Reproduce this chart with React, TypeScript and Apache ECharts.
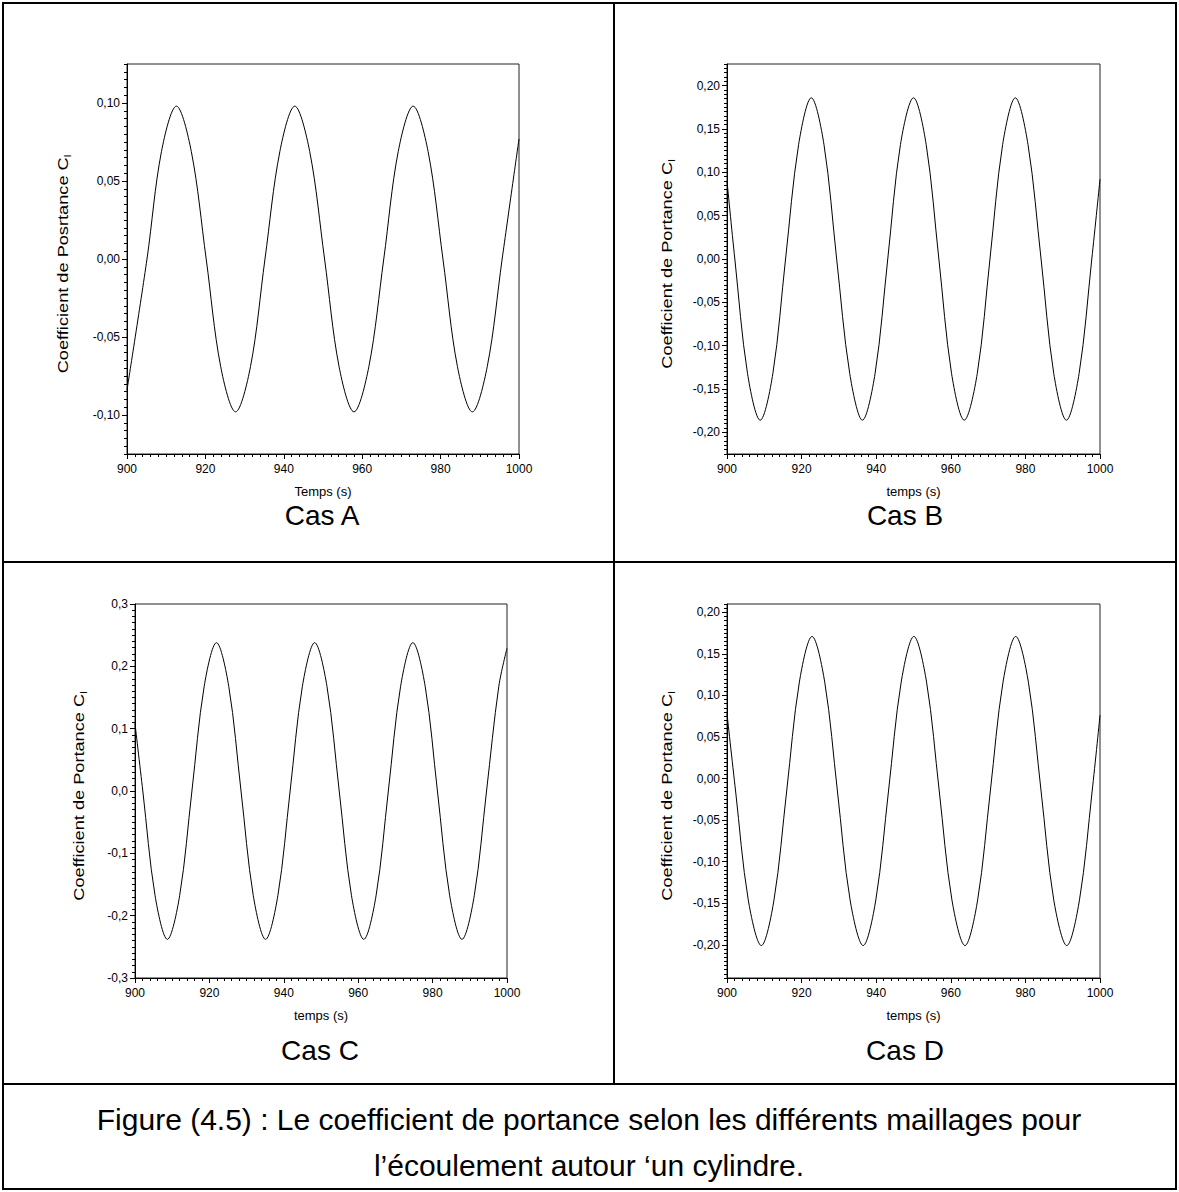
import React, { useEffect, useRef } from "react";
import * as echarts from "echarts";

// ---------- data ----------
const timeA = [900.0, 905.1, 908.8, 912.6, 916.4, 920.2, 923.9, 927.7, 931.5, 935.2, 939.0, 942.8, 946.6, 950.4, 954.1, 957.9, 961.7, 965.5, 969.2, 973.0, 976.8, 980.6, 984.3, 988.1, 991.9, 995.7, 1000.0];
const clA = [-0.084, 0.0, 0.069, 0.098, 0.069, 0.0, -0.069, -0.098, -0.069, 0.0, 0.069, 0.098, 0.069, 0.0, -0.069, -0.098, -0.069, 0.0, 0.069, 0.098, 0.069, 0.0, -0.069, -0.098, -0.069, 0.0, 0.077];

const timeB = [900.0, 902.1, 905.5, 908.9, 912.3, 915.7, 919.2, 922.6, 926.0, 929.4, 932.9, 936.3, 939.7, 943.1, 946.5, 950.0, 953.4, 956.8, 960.2, 963.6, 967.1, 970.5, 973.9, 977.3, 980.7, 984.2, 987.6, 991.0, 994.4, 997.8, 1000.0];
const clB = [0.09, 0.0, -0.132, -0.186, -0.132, 0.0, 0.132, 0.186, 0.132, 0.0, -0.132, -0.186, -0.132, 0.0, 0.132, 0.186, 0.132, 0.0, -0.132, -0.186, -0.132, 0.0, 0.132, 0.186, 0.132, 0.0, -0.132, -0.186, -0.132, 0.0, 0.092];

const timeC = [900.0, 902.1, 905.4, 908.7, 912.0, 915.3, 918.6, 921.9, 925.2, 928.5, 931.8, 935.1, 938.4, 941.7, 945.0, 948.3, 951.6, 954.9, 958.2, 961.5, 964.8, 968.1, 971.4, 974.7, 978.0, 981.3, 984.6, 987.9, 991.2, 994.5, 997.8, 1000.0];
const clC = [0.108, 0.0, -0.168, -0.238, -0.168, 0.0, 0.168, 0.238, 0.168, 0.0, -0.168, -0.238, -0.168, 0.0, 0.168, 0.238, 0.168, 0.0, -0.168, -0.238, -0.168, 0.0, 0.168, 0.238, 0.168, 0.0, -0.168, -0.238, -0.168, 0.0, 0.168, 0.229];

const timeD = [900.0, 902.3, 905.7, 909.2, 912.6, 916.0, 919.4, 922.8, 926.2, 929.6, 933.0, 936.5, 939.9, 943.3, 946.7, 950.1, 953.5, 956.9, 960.3, 963.8, 967.2, 970.6, 974.0, 977.4, 980.8, 984.2, 987.6, 991.1, 994.5, 997.9, 1000.0];
const clD = [0.078, -0.015, -0.146, -0.201, -0.146, -0.015, 0.116, 0.171, 0.116, -0.015, -0.146, -0.201, -0.146, -0.015, 0.116, 0.171, 0.116, -0.015, -0.146, -0.201, -0.146, -0.015, 0.116, 0.171, 0.116, -0.015, -0.146, -0.201, -0.146, -0.015, 0.076];

const xTicks = [900, 920, 940, 960, 980, 1000];
const yTicksA = [-0.1, -0.05, 0, 0.05, 0.1];
const yTicksB = [-0.2, -0.15, -0.1, -0.05, 0, 0.05, 0.1, 0.15, 0.2];
const yTicksC = [-0.3, -0.2, -0.1, 0, 0.1, 0.2, 0.3];
const yTicksD = [-0.2, -0.15, -0.1, -0.05, 0, 0.05, 0.1, 0.15, 0.2];

const yTitles = ["Coefficient de Posrtance C", "Coefficient de Portance C", "Coefficient de Portance C", "Coefficient de Portance C"];
const ySub = "l";
const xTitles = ["Temps (s)", "temps (s)", "temps (s)", "temps (s)"];
const casLabels = ["Cas A", "Cas B", "Cas C", "Cas D"];
const captionLines = [
  "Figure (4.5) : Le coefficient de portance selon les différents maillages pour",
  "l\u2019écoulement autour \u2018un cylindre.",
];

// ---------- layout / axis settings ----------
const FONT = "'Liberation Sans', Arial, sans-serif";

const panels = [
  { t: timeA, v: clA, ticks: yTicksA, min: -0.125, max: 0.125, minor: 0.005, dec: 2,
    grid: { left: 127, top: 64, width: 392, height: 390 }, titleX: 63, casX: 322, casY: 515 },
  { t: timeB, v: clB, ticks: yTicksB, min: -0.225, max: 0.225, minor: 0.005, dec: 2,
    grid: { left: 727, top: 64, width: 373, height: 390 }, titleX: 667, casX: 905, casY: 515 },
  { t: timeC, v: clC, ticks: yTicksC, min: -0.3, max: 0.3, minor: 0.01, dec: 1,
    grid: { left: 135, top: 604, width: 372, height: 374 }, titleX: 79, casX: 320, casY: 1050 },
  { t: timeD, v: clD, ticks: yTicksD, min: -0.24, max: 0.21, minor: 0.005, dec: 2,
    grid: { left: 727, top: 604, width: 373, height: 374 }, titleX: 667, casX: 905, casY: 1050 },
];

const fmt = (v: number, dec: number) => {
  const s = (Math.abs(v) < 1e-9 ? 0 : v).toFixed(dec);
  return s.replace(".", ",");
};

export default function App() {
  const ref = useRef<HTMLDivElement>(null);

  useEffect(() => {
    if (!ref.current) return;
    const chart = echarts.init(ref.current, undefined, { renderer: "svg" });

    const grids: any[] = [];
    const xAxes: any[] = [];
    const yAxes: any[] = [];
    const series: any[] = [];

    panels.forEach((p, i) => {
      grids.push({
        ...p.grid,
        show: true,
        borderColor: "#222",
        borderWidth: 1,
        backgroundColor: "transparent",
        containLabel: false,
      });
      xAxes.push({
        type: "value",
        gridIndex: i,
        min: 900,
        max: 1000,
        interval: 20,
        position: "bottom",
        name: xTitles[i],
        nameLocation: "middle",
        nameGap: 31,
        nameTextStyle: { fontFamily: FONT, fontSize: 13, color: "#000" },
        axisLine: { show: true, onZero: false, lineStyle: { color: "#000", width: 1 } },
        axisTick: { show: true, length: 5, lineStyle: { color: "#000", width: 1 } },
        minorTick: { show: true, splitNumber: 10, length: 3, lineStyle: { color: "#000", width: 1 } },
        axisLabel: {
          show: true,
          margin: 9,
          fontFamily: FONT,
          fontSize: 12,
          color: "#000",
          customValues: xTicks,
          formatter: (v: number) => String(Math.round(v)),
        },
        splitLine: { show: false },
        minorSplitLine: { show: false },
      });
      // main y axis (labels + major ticks)
      yAxes.push({
        type: "value",
        gridIndex: i,
        position: "left",
        min: p.min,
        max: p.max,
        axisLine: { show: true, onZero: false, lineStyle: { color: "#000", width: 1 } },
        axisTick: { show: true, length: 5, customValues: p.ticks, lineStyle: { color: "#000", width: 1 } },
        axisLabel: {
          show: true,
          margin: 7,
          fontFamily: FONT,
          fontSize: 12,
          color: "#000",
          customValues: p.ticks,
          formatter: (v: number) => fmt(v, p.dec),
        },
        splitLine: { show: false },
      });
      // minor ticks y axis
      yAxes.push({
        type: "value",
        gridIndex: i,
        position: "left",
        min: p.min,
        max: p.max,
        interval: p.minor,
        axisLine: { show: false, onZero: false },
        axisTick: { show: true, length: 3, lineStyle: { color: "#000", width: 1 } },
        axisLabel: { show: false },
        splitLine: { show: false },
      });
      series.push({
        type: "line",
        xAxisIndex: i,
        yAxisIndex: i * 2,
        data: p.t.map((t, k) => [t, p.v[k]]),
        showSymbol: false,
        symbol: "none",
        smooth: 0.34,
        lineStyle: { color: "#000", width: 1 },
        silent: true,
      });
    });

    const graphic: any[] = [
      { type: "rect", shape: { x: 3, y: 3, width: 1173, height: 1186 }, style: { fill: "none", stroke: "#000", lineWidth: 2 }, silent: true },
      { type: "line", shape: { x1: 614, y1: 3, x2: 614, y2: 1084 }, style: { stroke: "#000", lineWidth: 2 }, silent: true },
      { type: "line", shape: { x1: 3, y1: 562, x2: 1176, y2: 562 }, style: { stroke: "#000", lineWidth: 2 }, silent: true },
      { type: "line", shape: { x1: 3, y1: 1084, x2: 1176, y2: 1084 }, style: { stroke: "#000", lineWidth: 2 }, silent: true },
    ];
    panels.forEach((p, i) => {
      // y-axis title (stretched along its length like the reference)
      graphic.push({
        type: "text",
        x: p.titleX,
        y: p.grid.top + p.grid.height / 2 + 5,
        rotation: Math.PI / 2,
        scaleX: 1.3,
        scaleY: 1,
        style: {
          text: "{t|" + yTitles[i] + "}{s|" + ySub + "}",
          rich: {
            t: { fontFamily: FONT, fontSize: 14, fill: "#000", color: "#000" },
            s: { fontFamily: FONT, fontSize: 9, fill: "#000", color: "#000", padding: [10, 0, 0, 0] },
          },
          fill: "#000",
          align: "center",
          verticalAlign: "middle",
          textAlign: "center",
          textVerticalAlign: "middle",
        },
        silent: true,
      });
      graphic.push({
        type: "text",
        x: p.casX,
        y: p.casY,
        style: {
          text: casLabels[i],
          fontFamily: FONT,
          fontSize: 28,
          fill: "#000",
          align: "center",
          verticalAlign: "middle",
          textAlign: "center",
          textVerticalAlign: "middle",
        },
        silent: true,
      });
    });
    captionLines.forEach((line, i) => {
      graphic.push({
        type: "text",
        x: 589,
        y: 1119 + i * 46,
        style: {
          text: line,
          fontFamily: FONT,
          fontSize: 30,
          fill: "#000",
          align: "center",
          verticalAlign: "middle",
          textAlign: "center",
          textVerticalAlign: "middle",
        },
        silent: true,
      });
    });

    chart.setOption({
      animation: false,
      backgroundColor: "#fff",
      grid: grids,
      xAxis: xAxes,
      yAxis: yAxes,
      series,
      graphic,
    });

    return () => chart.dispose();
  }, []);

  return (
    <div
      ref={ref}
      style={{ position: "absolute", left: 0, top: 0, width: 1179, height: 1192 }}
    />
  );
}
